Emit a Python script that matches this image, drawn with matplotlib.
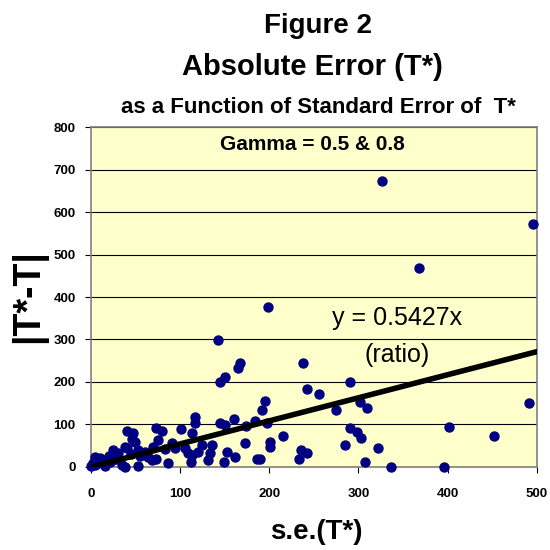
import matplotlib.pyplot as plt
import numpy as np

# datos: s.e.(T*) contra |T*-T|
se_t = [326, 496, 368, 198, 142, 238, 167, 165, 150, 145,
        242, 256, 291, 195, 192, 275, 302, 309, 491, 117,
        117, 113, 145, 150, 160, 174, 184, 197, 290, 298,
        303, 285, 322, 307, 336, 396, 402, 452, 215, 201,
        201, 235, 242, 233, 189, 173, 136, 133, 131, 152,
        149, 161, 186, 109, 112, 120, 124, 105, 113, 40,
        47, 73, 80, 101, 75, 91, 94, 86, 73, 53,
        53, 30, 38, 24, 16, 4, 8, 0, 64, 70,
        40, 25, 16, 10, 46, 49, 38, 83, 68, 35,
        21, 27, 5, 12, 20, 28, 45, 55, 60, 2]
abs_err = [673, 572, 468, 376, 299, 245, 245, 233, 212, 200,
           184, 172, 200, 155, 134, 134, 153, 139, 151, 118,
           104, 80, 104, 99, 113, 96, 108, 104, 92, 82,
           68, 52, 45, 12, 0, 0, 94, 73, 73, 59,
           47, 40, 33, 19, 19, 56, 52, 33, 16, 35,
           12, 24, 19, 33, 12, 35, 52, 45, 28, 85,
           80, 92, 85, 89, 64, 56, 45, 9, 19, 40,
           2, 33, 0, 16, 2, 24, 9, 2, 24, 47,
           45, 40, 16, 21, 66, 59, 47, 42, 16, 5,
           12, 28, 5, 12, 25, 18, 30, 25, 35, 10]
pendiente = 0.5427

fuente = 'Liberation Sans'

fig = plt.figure(figsize=(5.5, 5.5), dpi=100)
ax = fig.add_axes([0.1655, 0.151, 0.8105, 0.618])
ax.set_facecolor('#FFFFCC')

# lineas horizontales de la grilla
ax.set_axisbelow(True)
ax.grid(axis='y', color='black', linewidth=0.8)

ax.scatter(se_t, abs_err, s=42, color='#000080', zorder=3, clip_on=False)

# recta de la razon
xs = np.array([0, 500])
ax.plot(xs, pendiente * xs, color='black', linewidth=4, zorder=4,
        solid_capstyle='round')

ax.set_xlim(0, 500)
ax.set_ylim(0, 800)
ax.set_xticks(range(0, 501, 100))
ax.set_yticks(range(0, 801, 100))
for s in ax.spines.values():
    s.set_color('#808080')
    s.set_linewidth(1.2)
ax.tick_params(direction='out', length=4, width=0.8, colors='black')
ax.tick_params(axis='x', pad=11)
ax.tick_params(axis='y', pad=7)
for lab in ax.get_xticklabels() + ax.get_yticklabels():
    lab.set_fontfamily(fuente)
    lab.set_fontweight('bold')
    lab.set_fontsize(9.5)

# textos dentro del grafico
fig.text(312 / 550, 1 - 145 / 550, 'Gamma = 0.5 & 0.8', ha='center',
         va='center', fontsize=15, fontweight='bold', family=fuente)
fig.text(397 / 550, 1 - 318 / 550, 'y = 0.5427x', ha='center', va='center',
         fontsize=18, family=fuente)
fig.text(397 / 550, 1 - 355 / 550, '(ratio)', ha='center', va='center',
         fontsize=18, family=fuente)

# titulos
fig.text(318 / 550, 1 - 33 / 550, 'Figure 2', ha='center', va='baseline',
         fontsize=20, fontweight='bold', family=fuente)
fig.text(312 / 550, 1 - 75 / 550, 'Absolute Error (T*)', ha='center',
         va='baseline', fontsize=21, fontweight='bold', family=fuente)
fig.text(318 / 550, 1 - 113 / 550, 'as a Function of Standard Error of  T*',
         ha='center', va='baseline', fontsize=16, fontweight='bold',
         family=fuente)

# etiquetas de ejes
fig.text(316 / 550, 1 - 532 / 550, 's.e.(T*)', ha='center', va='center',
         fontsize=20, fontweight='bold', family=fuente)
fig.text(29 / 550, 1 - 296 / 550, '|T*-T|', ha='center', va='center',
         rotation=90, fontsize=27, fontweight='bold', family=fuente)

fig.savefig('out.png', dpi=100)
